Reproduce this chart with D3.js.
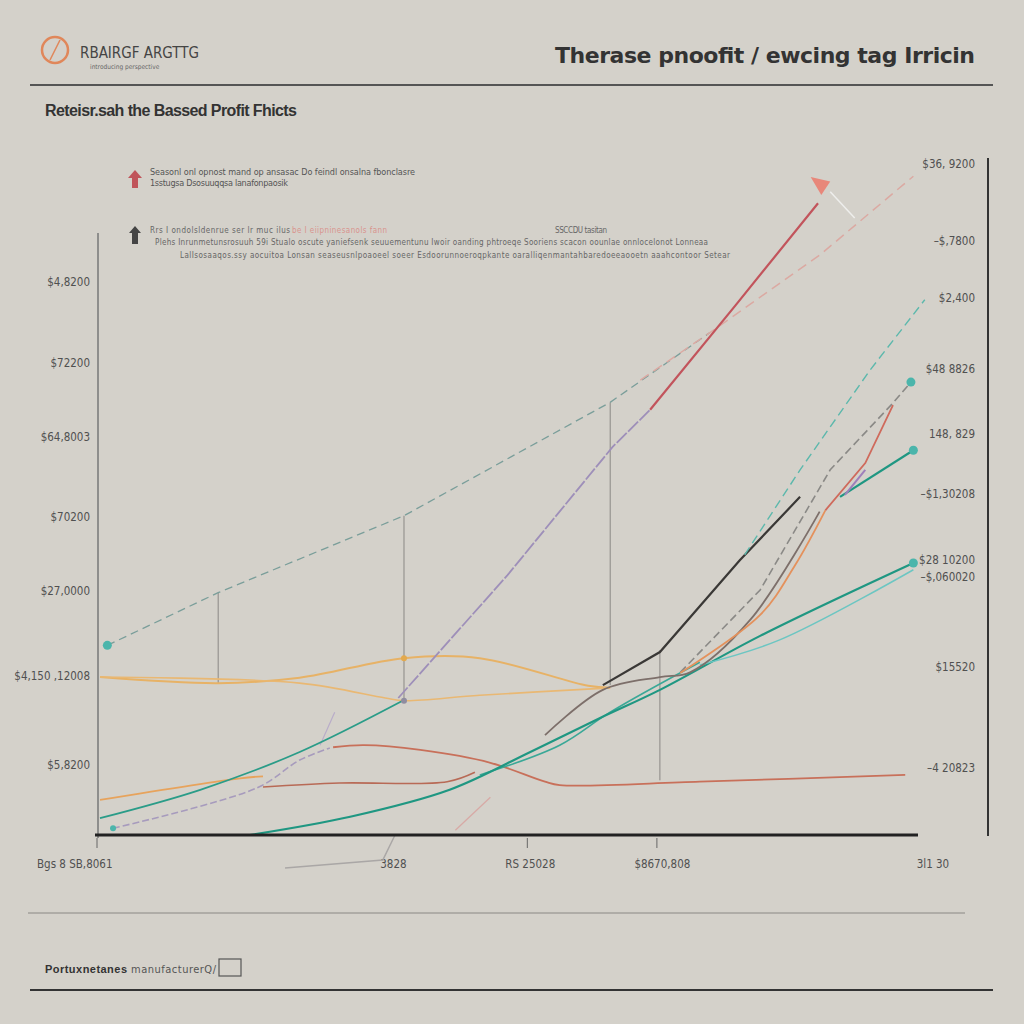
<!DOCTYPE html>
<html>
<head>
<meta charset="utf-8">
<script src="https://cdn.jsdelivr.net/npm/d3@7"></script>
<style>
  body { margin: 0; background: #d4d1ca; }
  svg { display: block; }
  .tick-label { font-family: "Liberation Sans Narrow", "DejaVu Sans Condensed", sans-serif; font-size: 11.5px; fill: #505050; }
</style>
</head>
<body>
<svg width="1024" height="1024"></svg>
<script>
// chart values (x: 0..100 along the period, y: 0..100 index)
const topDashed   = { x: [0.9, 14.5, 37.3, 62.6, 74.8], y: [28.1, 35.9, 47.3, 64.1, 74.4] }
const pinkDashed  = { x: [66.3, 74.8, 88.3, 99.8], y: [67.4, 74.4, 85.9, 97.6] }
const purpleRise  = { x: [36.6, 50, 62.9, 67.5], y: [20.3, 38.5, 57.5, 63] }
const redSteep    = { x: [67.5, 78, 88.1], y: [63, 78.5, 93.6] }
const orangeUpper = { x: [0, 14.5, 24.5, 37.3, 46.6, 59.9, 62.6], y: [23.4, 22.5, 23.3, 26.2, 26.2, 22.1, 21.8] }
const orangeLower = { x: [0, 24.5, 35, 37.3, 46.6, 62.6], y: [23.4, 22.5, 20.3, 19.9, 20.7, 21.8] }
const blackLine   = { x: [61.7, 68.7, 78.5, 85.9], y: [22.2, 27.1, 40.7, 50.1] }
const grayDashed  = { x: [71.2, 81, 89.6, 97.3, 99.5], y: [24.1, 36.3, 54.1, 64, 67.1] }
const grayBrown   = { x: [54.6, 61.7, 68.7, 72.4, 79.8, 88.3], y: [14.8, 21.5, 23.4, 24.1, 31.9, 47.9] }
const orangeRise  = { x: [71.2, 81, 85.3, 89], y: [24, 32.6, 40, 48.1] }
const redRise     = { x: [89, 93.9, 97.3], y: [48.1, 55.1, 63.7] }
const tealLong    = { x: [18.4, 30.7, 42.9, 52.8, 61.3, 68.7, 81, 99.8], y: [0, 2.7, 6.7, 12.3, 17.3, 21.5, 29.5, 40.3] }
const tealLight   = { x: [73.6, 83.4, 99.8], y: [25.2, 28.9, 39.3] }
const tealEarly   = { x: [0, 12.3, 24.5, 37.3], y: [2.5, 6.7, 12.3, 20] }
const tealMid     = { x: [46.6, 56.4, 62.6, 73.6], y: [8.9, 13.3, 18.2, 25.6] }
const tealUpper   = { x: [90.8, 99.8], y: [50.1, 57] }
const tealDashed  = { x: [79.1, 85.9, 94.5, 101.2], y: [41.5, 54.1, 68.9, 79.3] }
const redFlat     = { x: [28.6, 32.4, 39.3, 47.9, 54.6, 56.4, 73.6, 98.8], y: [13, 13.3, 12.6, 10.7, 7.9, 7.4, 7.9, 8.9] }
const brownLow    = { x: [20, 29.4, 42.6, 46], y: [7.1, 7.7, 7.9, 9.3] }
const orangeLow   = { x: [0, 17.2, 20], y: [5.2, 8.4, 8.7] }
const lavenderLow = { x: [1.6, 19.3, 24.5, 28.2], y: [1, 7, 11.1, 12.9] }
const lavenderHook = { x: [27, 28.8], y: [13.3, 18.2] }
const pinkShort   = { x: [43.6, 47.9], y: [0.7, 5.6] }
const grayUnder   = { x: [22.7, 34.7, 36.2], y: [-4.9, -3.7, 0] }
const purpleTick  = { x: [91.4, 93.9], y: [50.4, 54.1] }

const dropX  = [14.5, 37.3, 62.6, 68.7]
const dropY0 = [22.5, 20, 22.2, 8.1]
const dropY1 = [35.9, 47.3, 64.1, 27.4]

const leftTickValues  = [81.9, 69.9, 59, 47.1, 36.1, 23.6, 10.4]
const leftTickLabels  = ["$4,8200", "$72200", "$64,8003", "$70200", "$27,0000", "$4,150 ,12008", "$5,8200"]
const rightTickValues = [99.4, 88, 79.6, 69, 59.4, 50.5, 40.7, 38.2, 24.9, 9.9]
const rightTickLabels = ["$36, 9200", "–$,7800", "$2,400", "$48 8826", "148, 829", "–$1,30208", "$28 10200", "–$,060020", "$15520", "–4 20823"]
const bottomTickValues = [-3.1, 36, 52.8, 69, 102.2]
const bottomTickLabels = ["Bgs 8 SB,8061", "3828", "RS 25028", "$8670,808", "3l1 30"]

const svg = d3.select("svg")
const x = d3.scaleLinear().domain([0, 100]).range([100, 915])
const y = d3.scaleLinear().domain([0, 100]).range([835, 160])

// header
svg.append("circle").attr("cx", 55).attr("cy", 50).attr("r", 13)
  .attr("fill", "none").attr("stroke", "#e0875a").attr("stroke-width", 2.5)
svg.append("line").attr("x1", 50).attr("y1", 60).attr("x2", 60).attr("y2", 40)
  .attr("stroke", "#e0875a").attr("stroke-width", 1.5)
svg.append("text").attr("x", 80).attr("y", 58).text("RBAIRGF ARGTTG")
  .attr("font-family", "Liberation Sans Narrow, DejaVu Sans Condensed, sans-serif")
  .attr("font-size", 15).attr("fill", "#444")
svg.append("text").attr("x", 90).attr("y", 69).text("introducing perspective")
  .attr("font-family", "DejaVu Sans Condensed, sans-serif").attr("font-size", 6.5).attr("fill", "#666")
svg.append("text").attr("x", 975).attr("y", 63).attr("text-anchor", "end")
  .text("Therase  pnoofit / ewcing tag Irricin")
  .attr("font-family", "DejaVu Sans, sans-serif").attr("font-weight", "bold")
  .attr("font-size", 22).attr("fill", "#333").attr("textLength", 420)
svg.append("line").attr("x1", 30).attr("x2", 993).attr("y1", 85).attr("y2", 85)
  .attr("stroke", "#555").attr("stroke-width", 2)
svg.append("text").attr("x", 45).attr("y", 116).text("Reteisr.sah the Bassed Profit Fhicts")
  .attr("font-family", "Liberation Sans, sans-serif").attr("font-weight", "bold")
  .attr("font-size", 16).attr("fill", "#333").attr("textLength", 252)

// annotations
const small = "Liberation Sans Narrow, DejaVu Sans Condensed, sans-serif"
svg.append("path").attr("d", "M135,170 L142,178 L138,178 L138,188 L132,188 L132,178 L128,178 Z").attr("fill", "#c0545a")
svg.append("text").attr("x", 150).attr("y", 175).text("Seasonl onl opnost mand op ansasac Do feindl onsalna fbonclasre")
  .attr("font-family", small).attr("font-size", 9).attr("fill", "#555").attr("textLength", 265)
svg.append("text").attr("x", 150).attr("y", 186).text("1sstugsa Dsosuuqqsa lanafonpaosik")
  .attr("font-family", small).attr("font-size", 9).attr("fill", "#555").attr("textLength", 138)
svg.append("path").attr("d", "M135,226 L141,233 L138,233 L138,244 L132,244 L132,233 L129,233 Z").attr("fill", "#444")
svg.append("text").attr("x", 150).attr("y", 233).text("Rrs I ondolsldenrue ser lr muc ilus")
  .attr("font-family", small).attr("font-size", 8).attr("fill", "#666").attr("textLength", 140)
svg.append("text").attr("x", 292).attr("y", 233).text("be I eiipninesanols fann")
  .attr("font-family", small).attr("font-size", 8).attr("fill", "#d9938e").attr("textLength", 95)
svg.append("text").attr("x", 555).attr("y", 233).text("SSCCDU tasitan")
  .attr("font-family", small).attr("font-size", 8).attr("fill", "#666").attr("textLength", 52)
svg.append("text").attr("x", 155).attr("y", 245)
  .text("Plehs Inrunmetunsrosuuh 59i Stualo oscute yaniefsenk seuuementunu Iwoir oanding phtroeqe Sooriens scacon oounlae onnlocelonot Lonneaa")
  .attr("font-family", small).attr("font-size", 8).attr("fill", "#666").attr("textLength", 553)
svg.append("text").attr("x", 180).attr("y", 258)
  .text("LalIsosaaqos.ssy aocuitoa Lonsan seaseusnlpoaoeel soeer Esdoorunnoeroqpkante oaralliqenmantahbaredoeeaooetn aaahcontoor Setear")
  .attr("font-family", small).attr("font-size", 8).attr("fill", "#666").attr("textLength", 550)

// axes
svg.append("line").attr("x1", 98).attr("x2", 98).attr("y1", 233).attr("y2", 838)
  .attr("stroke", "#777").attr("stroke-width", 1.5)
svg.append("line").attr("x1", 988).attr("x2", 988).attr("y1", 158).attr("y2", 836)
  .attr("stroke", "#333").attr("stroke-width", 2)

svg.append("g").selectAll("text").data(leftTickValues).join("text")
  .attr("class", "tick-label").attr("x", 90).attr("y", d => y(d) + 4)
  .attr("text-anchor", "end").text((d, i) => leftTickLabels[i])
svg.append("g").selectAll("text").data(rightTickValues).join("text")
  .attr("class", "tick-label").attr("x", 975).attr("y", d => y(d) + 4)
  .attr("text-anchor", "end").text((d, i) => rightTickLabels[i])
svg.append("g").selectAll("text").data(bottomTickValues).join("text")
  .attr("class", "tick-label").attr("x", d => x(d)).attr("y", 868)
  .attr("text-anchor", "middle").text((d, i) => bottomTickLabels[i])
svg.append("g").selectAll("line").data([0, 52.8, 68.7]).join("line")
  .attr("x1", d => x(d) - 3).attr("x2", d => x(d) - 3).attr("y1", 838).attr("y2", 848)
  .attr("stroke", "#666")

// drop lines
svg.append("g").selectAll("line").data(dropX).join("line")
  .attr("x1", d => x(d)).attr("x2", d => x(d))
  .attr("y1", (d, i) => y(dropY0[i])).attr("y2", (d, i) => y(dropY1[i]))
  .attr("stroke", "#8a8884").attr("stroke-width", 1)

// lines
const smooth = d3.line().x(d => x(d[0])).y(d => y(d[1])).curve(d3.curveCatmullRom.alpha(0.5))
const straight = d3.line().x(d => x(d[0])).y(d => y(d[1]))
const pts = s => s.x.map((v, i) => [v, s.y[i]])
const styles = [
  [topDashed, "#7a9e9a", 1.3, "8,5", straight],
  [pinkDashed, "#dba9a2", 1.5, "10,6", straight],
  [orangeUpper, "#e7b266", 2, null, smooth],
  [orangeLower, "#e9b873", 1.6, null, smooth],
  [orangeLow, "#e7a35c", 1.8, null, smooth],
  [brownLow, "#b86a56", 1.6, null, smooth],
  [redFlat, "#c8705a", 1.8, null, smooth],
  [lavenderLow, "#a79bbd", 1.6, "7,3", smooth],
  [lavenderHook, "#b9adc9", 1.2, null, smooth],
  [pinkShort, "#d8aaa6", 1.3, null, straight],
  [grayUnder, "#aaa7a6", 1.5, null, straight],
  [tealEarly, "#2a9c88", 1.8, null, smooth],
  [tealMid, "#3aa897", 1.6, null, smooth],
  [tealLong, "#1f9782", 2.2, null, smooth],
  [tealLight, "#6cc6c2", 1.5, null, smooth],
  [purpleRise, "#9e8fb9", 1.8, "14,2", straight],
  [redSteep, "#c2545c", 2.2, null, straight],
  [grayBrown, "#7d6f6a", 1.8, null, smooth],
  [grayDashed, "#8a8986", 1.6, "8,4", straight],
  [blackLine, "#3a3836", 2.2, null, straight],
  [orangeRise, "#e4915c", 1.8, null, smooth],
  [redRise, "#cf6a5c", 1.8, null, straight],
  [tealDashed, "#5cb8ac", 1.4, "9,5", straight],
  [tealUpper, "#1f9782", 2.2, null, straight],
  [purpleTick, "#9e7fbb", 2, null, straight]
]
svg.append("g").selectAll("path").data(styles).join("path")
  .attr("d", d => d[4](pts(d[0])))
  .attr("fill", "none").attr("stroke", d => d[1]).attr("stroke-width", d => d[2])
  .attr("stroke-dasharray", d => d[3])

// bottom axis on top of lines
svg.append("line").attr("x1", 95).attr("x2", 918).attr("y1", 835).attr("y2", 835)
  .attr("stroke", "#222").attr("stroke-width", 3)

// markers
const dots = [[topDashed.x[0], topDashed.y[0]], [tealLong.x[7], tealLong.y[7]],
  [tealUpper.x[1], tealUpper.y[1]], [grayDashed.x[4], grayDashed.y[4]], [lavenderLow.x[0], lavenderLow.y[0]]]
svg.append("g").selectAll("circle").data(dots).join("circle")
  .attr("cx", d => x(d[0])).attr("cy", d => y(d[1])).attr("r", (d, i) => i == 4 ? 3 : 4.5)
  .attr("fill", "#4bb5ab")
svg.append("circle").attr("cx", x(orangeUpper.x[3])).attr("cy", y(orangeUpper.y[3])).attr("r", 3).attr("fill", "#e3a94d")
svg.append("circle").attr("cx", x(orangeLower.x[3])).attr("cy", y(orangeLower.y[3])).attr("r", 3).attr("fill", "#8f8ca0")
svg.append("path")
  .attr("d", `M${x(87.2)},${y(97.5)} L${x(89.6)},${y(96.8)} L${x(88.5)},${y(94.8)} Z`).attr("fill", "#e8877a")
svg.append("line").attr("x1", x(89.6)).attr("y1", y(95.3)).attr("x2", x(92.6)).attr("y2", y(91.4))
  .attr("stroke", "#eeeeec").attr("stroke-width", 1.5)

// footer
svg.append("line").attr("x1", 28).attr("x2", 965).attr("y1", 913).attr("y2", 913)
  .attr("stroke", "#8a8884").attr("stroke-width", 1)
svg.append("text").attr("x", 45).attr("y", 973).text("Portuxnetanes")
  .attr("font-family", "Liberation Sans, sans-serif").attr("font-weight", "bold")
  .attr("font-size", 11).attr("fill", "#333").attr("textLength", 82)
svg.append("text").attr("x", 131).attr("y", 973).text("manufacturerQ/")
  .attr("font-family", small).attr("font-size", 11).attr("fill", "#555").attr("textLength", 85)
svg.append("rect").attr("x", 219).attr("y", 959).attr("width", 22).attr("height", 17)
  .attr("fill", "none").attr("stroke", "#555").attr("stroke-width", 1.2)
svg.append("line").attr("x1", 30).attr("x2", 993).attr("y1", 990).attr("y2", 990)
  .attr("stroke", "#333").attr("stroke-width", 2)
</script>
</body>
</html>
